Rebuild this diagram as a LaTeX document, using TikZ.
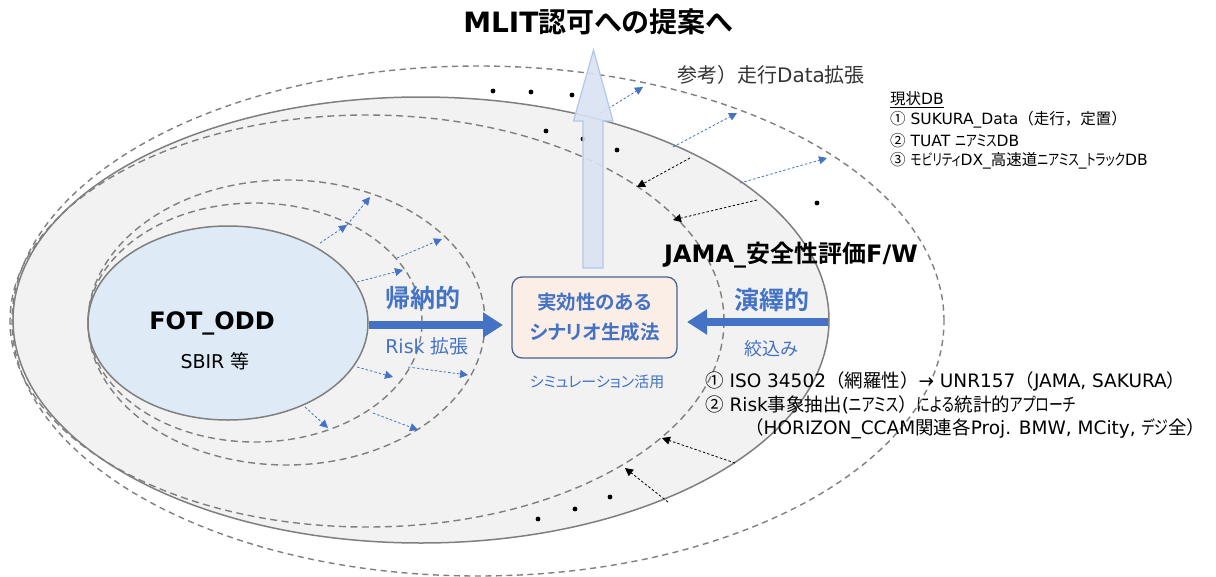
\documentclass[tikz,border=0pt]{standalone}
\usepackage{fontspec}
\setmainfont{DejaVu Sans}
\newfontfamily\cjkf{Noto Sans CJK JP}[BoldFont={Noto Sans CJK JP Bold}]
\newfontfamily\kanaf{Noto Sans CJK JP}[BoldFont={Noto Sans CJK JP Bold}, RawFeature=+palt]
\newfontfamily\kanacond{Noto Sans CJK JP}[BoldFont={Noto Sans CJK JP Bold}, RawFeature=+palt, FakeStretch=0.75]
\newfontfamily\latf{DejaVu Sans}
\XeTeXinterchartokenstate=1
\newXeTeXintercharclass\cjkcls
\newXeTeXintercharclass\kanacls
\newcount\cjkcnt
\def\setcjkrange#1#2#3{\cjkcnt=#1 \loop \XeTeXcharclass\cjkcnt=#3 \ifnum\cjkcnt<#2 \advance\cjkcnt by 1 \repeat}
\setcjkrange{"3000}{"3040}{\cjkcls}
\setcjkrange{"3041}{"30FF}{\kanacls}
\setcjkrange{"4E00}{"9FFF}{\cjkcls}
\setcjkrange{"FF00}{"FFEF}{\cjkcls}
\setcjkrange{"2460}{"24FF}{\cjkcls}
\XeTeXinterchartoks 0 \cjkcls = {\cjkf}
\XeTeXinterchartoks 4095 \cjkcls = {\cjkf}
\XeTeXinterchartoks \kanacls \cjkcls = {\cjkf}
\XeTeXinterchartoks 0 \kanacls = {\kanaf}
\XeTeXinterchartoks 4095 \kanacls = {\kanaf}
\XeTeXinterchartoks \cjkcls \kanacls = {\kanaf}
\XeTeXinterchartoks \cjkcls 0 = {\latf}
\XeTeXinterchartoks \cjkcls 4095 = {\latf}
\XeTeXinterchartoks \kanacls 0 = {\latf}
\XeTeXinterchartoks \kanacls 4095 = {\latf}
\usetikzlibrary{arrows.meta,shapes.geometric,calc}
\definecolor{accent}{HTML}{4472C4}
\definecolor{ringgray}{HTML}{7F7F7F}
\definecolor{zonefill}{HTML}{F2F2F2}
\definecolor{fotfill}{HTML}{DEEBF7}
\definecolor{boxfill}{HTML}{FBEEE6}
\definecolor{boxline}{HTML}{4A6491}
\definecolor{upfill}{HTML}{DAE3F3}
\definecolor{upline}{HTML}{B4C7E7}
\tikzset{
  txt/.style={inner sep=0pt, font=\fontsize{#1pt}{#1pt}\selectfont},
  btxt/.style={inner sep=0pt, font=\fontsize{#1pt}{#1pt}\selectfont\bfseries},
  ctxt/.style={inner sep=0pt, font=\fontsize{#1pt}{#1pt}\selectfont\let\kanaf\kanacond},
  ring/.style={draw=ringgray, line width=1.4pt, dash pattern=on 7pt off 4.5pt},
  bluearr/.style={draw=accent, line width=0.8pt, dash pattern=on 2.5pt off 2pt, -{Triangle[length=8pt,width=8pt]}},
  blkarr/.style={draw=black, line width=0.8pt, dash pattern=on 2.5pt off 2pt, -{Triangle[length=8pt,width=8pt]}},
  fatarr/.style={draw=accent, line width=8pt, -{Triangle[length=20pt,width=24pt]}},
  dotmark/.style={fill=black},
}
\begin{document}
\begin{tikzpicture}[x=1pt,y=-1pt]
\useasboundingbox (0,0) rectangle (1216,576);
\fill[white] (0,0) rectangle (1216,576);
% outer dashed ellipse (data extension)
\draw[ring, dash pattern=on 6pt off 4.5pt] (478,321) ellipse [x radius=466pt, y radius=255pt];
% gray zone (JAMA)
\draw[fill=zonefill, draw=ringgray, line width=1.5pt] (421,320) ellipse [x radius=408pt, y radius=223pt];
% inner big dashed
\draw[ring] (367,321) ellipse [x radius=357pt, y radius=206pt];
% small dashed rings
\draw[ring] (286.5,322.5) ellipse [x radius=198.5pt, y radius=142.5pt];
\draw[ring] (255,322.5) ellipse [x radius=167pt, y radius=119.5pt];
% FOT ellipse
\node[ellipse, draw=ringgray, line width=1.5pt, fill=fotfill, minimum width=280pt, minimum height=194pt, inner sep=0pt] (fot) at (228,323) {};
\node[btxt=24] (fotlabel) at (212,323) {FOT\_ODD};
\node[txt=19] (sbir) at (215,361) {SBIR 等};

% small blue dashed arrows
\foreach \n/\xa/\ya/\xb/\yb in {
  b1/320/243/347/225, b2/347/225/370/197, b3/357/282/403/270, b4/397/258/442/239,
  b5/357/367/393/377, b6/408/367/468/375, b7/305/407/328/428, b8/373/413/418/430,
  b9/593/118/643/87, b10/673/147/737/113, b11/740/183/827/158}{
  \coordinate (\n s) at (\xa,\ya);
  \coordinate (\n e) at (\xb,\yb);
  \draw[bluearr] (\n s) -- (\n e);
}
% black dashed arrows
\foreach \n/\xa/\ya/\xb/\yb in {
  k1/690/158/637/187, k2/757/200/673/220, k3/668/502/625/468, k4/735/463/662/438}{
  \coordinate (\n s) at (\xa,\ya);
  \coordinate (\n e) at (\xb,\yb);
  \draw[blkarr] (\n s) -- (\n e);
}
% dots
\foreach \x/\y in {493/91, 531/92, 572/95, 546/131, 583/139, 617/150, 817/203, 538/519, 575/509, 610/497}{
  \fill[dotmark] (\x,\y) circle (2.4pt);
}

% big up arrow
\coordinate (upbase) at (593,268);
\coordinate (uptip) at (593.5,50);
\filldraw[fill=upfill, draw=upline, line width=1.2pt, fill opacity=0.9]
  ($(upbase)+(-10,0)$) -- ($(upbase)+(-10,-147)$) -- ($(upbase)+(-19.5,-147)$) -- (uptip)
  -- ($(upbase)+(20,-147)$) -- ($(upbase)+(10,-147)$) -- ($(upbase)+(10,0)$) -- cycle;

% central box
\node[draw=boxline, line width=1.3pt, fill=boxfill, rounded corners=10pt, minimum width=165pt, minimum height=81pt,
  align=center, text=accent, font=\fontsize{19.5pt}{30pt}\selectfont\bfseries] (box) at (594.5,317.5) {実効性のある\\シナリオ生成法};

% fat arrows
\coordinate (rtip) at (503,325);
\draw[fatarr] (fot.east |- rtip) -- (rtip);
\coordinate (ltail) at (828,322);
\coordinate (ltip) at (687,322);
\draw[fatarr] (ltail) -- (ltip);

% texts
\node[btxt=28] (title) at (598,22) {MLIT認可への提案へ};
\node[txt=20, anchor=west, text=black!80] (ref) at (677,75) {参考）走行Data拡張};
\node[ctxt=15.5, anchor=west] (db0) at (890,100) {\underline{現状DB}};
\node[ctxt=15.5, anchor=west] (db1) at (890,120) {① SUKURA\_Data（走行，定置）};
\node[ctxt=15.5, anchor=west] (db2) at (890,141) {② TUAT ニアミスDB};
\node[ctxt=15.5, anchor=west] (db3) at (890,161) {③ モビリティDX\_高速道ニアミス\_トラックDB};
\node[btxt=24, anchor=west] (jama) at (664,255) {JAMA\_安全性評価F/W};
\node[btxt=25, text=accent] (kino) at (423,298) {帰納的};
\node[txt=19, text=accent] (risk) at (427,346) {Risk 拡張};
\node[btxt=25, text=accent] (eneki) at (772,300) {演繹的};
\node[txt=18, text=accent] (shibori) at (771,349) {絞込み};
\node[txt=15, text=accent] (sim) at (597,382) {シミュレーション活用};
\node[ctxt=18.5, anchor=west] (l1) at (705,381) {① ISO 34502（網羅性）→ UNR157（JAMA, SAKURA）};
\node[ctxt=18.5, anchor=west] (l2) at (705,405) {② Risk事象抽出(ニアミス）による統計的アプローチ};
\node[ctxt=18.5, anchor=west] (l3) at (745,429) {（HORIZON\_CCAM関連各Proj. BMW, MCity, デジ全）};
\end{tikzpicture}
\end{document}
